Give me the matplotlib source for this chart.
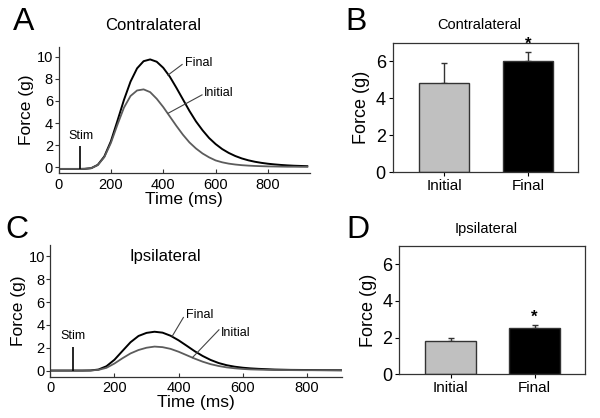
import matplotlib
matplotlib.use("Agg")
import matplotlib.pyplot as plt

plt.rcParams['font.family'] = ['Liberation Sans', 'DejaVu Sans']

# ---------------- DATA ---------------- #
# force traces (g) sampled every 25 ms, read off the figure
TIME_A = [0, 25, 50, 75, 100, 125, 150, 175, 200, 225, 250, 275, 300, 325, 350,
          375, 400, 425, 450, 475, 500, 525, 550, 575, 600, 625, 650, 675, 700,
          725, 750, 775, 800, 825, 850, 875, 900, 925, 950]
FINAL_A = [-0.15, -0.15, -0.15, -0.15, -0.14, -0.08, 0.22, 0.98, 2.35, 4.2, 6.1,
           7.75, 8.95, 9.6, 9.76, 9.55, 9.0, 8.2, 7.2, 6.15, 5.1, 4.15, 3.35,
           2.65, 2.1, 1.65, 1.3, 1.02, 0.8, 0.63, 0.5, 0.4, 0.32, 0.26, 0.21,
           0.17, 0.14, 0.12, 0.1]
INITIAL_A = [-0.15, -0.15, -0.15, -0.15, -0.14, -0.08, 0.2, 0.92, 2.2, 3.85, 5.4,
             6.45, 6.95, 7.05, 6.8, 6.2, 5.45, 4.6, 3.75, 2.95, 2.25, 1.7, 1.25,
             0.9, 0.62, 0.45, 0.33, 0.25, 0.19, 0.15, 0.12, 0.1, 0.08, 0.07,
             0.06, 0.05, 0.05, 0.04, 0.04]

TIME_C = [0, 25, 50, 75, 100, 125, 150, 175, 200, 225, 250, 275, 300, 325, 350,
          375, 400, 425, 450, 475, 500, 525, 550, 575, 600, 625, 650, 700, 750,
          800, 850, 910]
FINAL_C = [0.0, 0.0, 0.0, 0.0, 0.0, 0.01, 0.09, 0.38, 0.95, 1.72, 2.48, 3.03, 3.3,
           3.4, 3.32, 3.05, 2.65, 2.18, 1.7, 1.28, 0.93, 0.66, 0.47, 0.34, 0.25,
           0.19, 0.15, 0.09, 0.06, 0.05, 0.04, 0.03]
INITIAL_C = [0.0, 0.0, 0.0, 0.0, 0.0, 0.01, 0.06, 0.24, 0.62, 1.08, 1.5, 1.8, 2.0,
             2.1, 2.05, 1.9, 1.65, 1.35, 1.05, 0.78, 0.56, 0.4, 0.28, 0.2, 0.14,
             0.1, 0.08, 0.05, 0.04, 0.03, 0.03, 0.02]

STIM_A = 84
STIM_C = 71

# bar panels: mean force (g) and upper error
GROUPS = ["Initial", "Final"]
CONTRA_MEAN = [4.8, 6.0]
CONTRA_ERR = [1.12, 0.48]
IPSI_MEAN = [1.82, 2.52]
IPSI_ERR = [0.16, 0.15]

# ---------------- THEME ---------------- #
FINAL_COLOR = "#000000"
INITIAL_COLOR = "#5c5c5c"
BAR_COLORS = ["#c0c0c0", "#000000"]
SPINE_COLOR = "#333333"

fig = plt.figure(figsize=(6, 4.18), dpi=100)


def trace_panel(rect, t, final, initial, stim, base, xmax, ymin, ymax,
                final_lbl, init_lbl, stim_top):
    ax = fig.add_axes(rect)
    ax.plot(t, final, color=FINAL_COLOR, lw=1.4)
    ax.plot(t, initial, color=INITIAL_COLOR, lw=1.3)
    ax.vlines(stim, base, stim_top, color="#000000", lw=1.2)
    ax.text(stim, stim_top + 0.4, "Stim", ha='center', va='bottom', fontsize=9)
    # leader lines + labels
    (x0, y0, x1, y1, tx, ty) = final_lbl
    ax.plot([x0, x1], [y0, y1], color="#444444", lw=0.8)
    ax.text(tx, ty, "Final", ha='left', va='center', fontsize=9)
    (x0, y0, x1, y1, tx, ty) = init_lbl
    ax.plot([x0, x1], [y0, y1], color="#444444", lw=0.8)
    ax.text(tx, ty, "Initial", ha='left', va='center', fontsize=9)

    ax.set_xlim(0, xmax)
    ax.set_ylim(ymin, ymax)
    ax.set_xticks([0, 200, 400, 600, 800])
    ax.set_yticks([0, 2, 4, 6, 8, 10])
    ax.spines['top'].set_visible(False)
    ax.spines['right'].set_visible(False)
    for s in ['left', 'bottom']:
        ax.spines[s].set_color(SPINE_COLOR)
        ax.spines[s].set_linewidth(0.9)
    ax.tick_params(axis='x', direction='in', length=3, labelsize=10.5, pad=3,
                   color=SPINE_COLOR)
    ax.tick_params(axis='y', direction='out', length=3, labelsize=10.5, pad=1,
                   color=SPINE_COLOR)
    ax.set_xlabel("Time (ms)", fontsize=12.5, labelpad=0)
    ax.set_ylabel("Force (g)", fontsize=12.5, labelpad=2)
    return ax


def bar_panel(rect, means, errs, title, title_y):
    ax = fig.add_axes(rect)
    x = range(len(GROUPS))
    ax.bar(x, means, width=0.6, color=BAR_COLORS, edgecolor="#333333",
           linewidth=1.0, zorder=2)
    ax.errorbar(x, means, yerr=[[0] * len(errs), errs], fmt='none',
                ecolor="#333333", elinewidth=1.0, capsize=2.5, capthick=1.0,
                zorder=1)
    ax.text(1, means[1] + errs[1] + 0.02, "*", ha='center', va='bottom',
            fontsize=12, fontweight='bold')
    ax.set_xlim(-0.61, 1.6)
    ax.set_ylim(0, 7)
    ax.set_yticks([0, 2, 4, 6])
    ax.set_xticks(list(x))
    ax.set_xticklabels(GROUPS)
    for s in ax.spines.values():
        s.set_color(SPINE_COLOR)
        s.set_linewidth(0.9)
    ax.tick_params(axis='y', direction='out', length=3, labelsize=13, pad=2)
    ax.tick_params(axis='x', direction='out', length=3, labelsize=11, pad=2)
    ax.set_ylabel("Force (g)", fontsize=13, labelpad=4)
    fig.text(rect[0] + rect[2] / 2 - 0.01, title_y, title, ha='center',
             va='center', fontsize=10.5)
    return ax


# ---------------- PANELS ---------------- #
trace_panel([0.0975, 0.585, 0.419, 0.303], TIME_A, FINAL_A, INITIAL_A,
            STIM_A, -0.15, 960, -0.56, 10.9,
            (418, 8.34, 472, 9.3, 482, 9.45), (418, 4.88, 548, 6.55, 555, 6.75),
            1.9)
trace_panel([0.084, 0.099, 0.486, 0.315], TIME_C, FINAL_C, INITIAL_C,
            STIM_C, 0.0, 910, -0.53, 11.0,
            (380, 3.0, 415, 4.65, 422, 4.9), (443, 1.13, 526, 3.57, 531, 3.3),
            2.1)
fig.text(0.255, 0.94, "Contralateral", ha='center', va='center', fontsize=12)
fig.text(0.275, 0.386, "Ipsilateral", ha='center', va='center', fontsize=12)

bar_panel([0.6545, 0.588, 0.3095, 0.310], CONTRA_MEAN, CONTRA_ERR,
          "Contralateral", 0.94)
bar_panel([0.6655, 0.1045, 0.3095, 0.3077], IPSI_MEAN, IPSI_ERR,
          "Ipsilateral", 0.452)

# panel letters
for lbl, x, y in [("A", 0.04, 0.947), ("B", 0.593, 0.947),
                  ("C", 0.029, 0.45), ("D", 0.597, 0.45)]:
    fig.text(x, y, lbl, ha='center', va='center', fontsize=23)

fig.savefig("out.png", dpi=100)
